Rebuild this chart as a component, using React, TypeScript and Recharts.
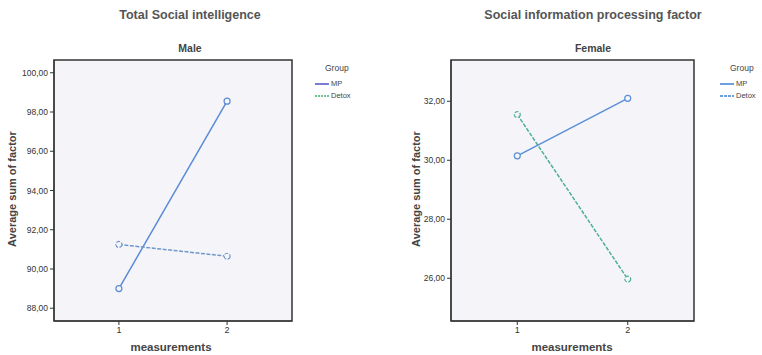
import { LineChart, Line, XAxis, YAxis, ReferenceArea } from 'recharts';

const measurements = [1, 2];
const groups = ['MP', 'Detox'];

// Total Social intelligence, Male
const maleMP = [89.0, 98.55];
const maleDetox = [91.25, 90.65];
const maleTicks = [88, 90, 92, 94, 96, 98, 100];

// Social information processing factor, Female
const femaleMP = [30.15, 32.1];
const femaleDetox = [31.55, 25.97];
const femaleTicks = [26, 28, 30, 32];

const FONT = '"Liberation Sans", Arial, sans-serif';
const PLOT_BG = '#f5f5f9';
const INK = '#333';

const fmt = (v: number) => v.toFixed(2).replace('.', ',');

interface PanelProps {
  left: number;
  title: string;
  subtitle: string;
  mp: number[];
  detox: number[];
  ticks: number[];
  domain: [number, number];
  marginLeft: number;
  marginRight: number;
  lineColors: string[];
  legendColors: string[];
  legendDash: string[];
  titleX: number;
  subX: number;
  yLabelX: number;
  xLabelX: number;
  legendX: number;
}

function GroupLegend({ x, colors, dashes }: { x: number; colors: string[]; dashes: string[] }) {
  return (
    <div style={{ position: 'absolute', left: x, top: 64, fontFamily: FONT, color: '#444', lineHeight: 1 }}>
      <div style={{ fontSize: 8.5, marginLeft: 10, marginBottom: 5 }}>Group</div>
      {groups.map((g, i) => (
        <div key={g} style={{ display: 'flex', alignItems: 'center', fontSize: 7.5, height: 12 }}>
          <svg width={14} height={4} style={{ marginRight: 2 }}>
            <line x1={0} y1={2} x2={14} y2={2} stroke={colors[i]} strokeWidth={1.5} strokeDasharray={dashes[i]} />
          </svg>
          <span>{g}</span>
        </div>
      ))}
    </div>
  );
}

function Panel(p: PanelProps) {
  const data = measurements.map((m, i) => ({ m, mp: p.mp[i], detox: p.detox[i] }));
  return (
    <div style={{ position: 'absolute', left: p.left, top: 0, width: 381, height: 355 }}>
      <div style={{ position: 'absolute', left: p.titleX - 150, width: 300, top: 8, textAlign: 'center', fontWeight: 'bold', fontSize: 12.5, color: '#555' }}>
        {p.title}
      </div>
      <div style={{ position: 'absolute', left: p.subX - 50, width: 100, top: 42, textAlign: 'center', fontWeight: 'bold', fontSize: 10.5, color: '#444' }}>
        {p.subtitle}
      </div>
      <div
        style={{
          position: 'absolute',
          left: p.yLabelX - 80,
          width: 160,
          top: 183,
          textAlign: 'center',
          fontWeight: 'bold',
          fontSize: 11,
          color: '#444',
          transform: 'rotate(-90deg)',
        }}
      >
        Average sum of factor
      </div>
      <div style={{ position: 'absolute', left: p.xLabelX - 60, width: 120, top: 342, lineHeight: 1, textAlign: 'center', fontWeight: 'bold', fontSize: 11.5, color: '#444' }}>
        measurements
      </div>
      <GroupLegend x={p.legendX} colors={p.legendColors} dashes={p.legendDash} />
      <div style={{ position: 'absolute', left: 0, top: 0 }}>
        <LineChart
          width={381}
          height={355}
          data={data}
          margin={{ top: 60, right: p.marginRight, left: p.marginLeft, bottom: 14 }}
        >
          <ReferenceArea
            x1={0.4}
            x2={2.6}
            y1={p.domain[0]}
            y2={p.domain[1]}
            fill={PLOT_BG}
            fillOpacity={1}
            stroke={INK}
            strokeWidth={1.5}
            ifOverflow="visible"
          />
          <XAxis
            type="number"
            dataKey="m"
            domain={[0.4, 2.6]}
            ticks={measurements}
            allowDataOverflow
            height={20}
            tickSize={4}
            stroke={INK}
            tick={{ fontSize: 9, fill: '#333', fontFamily: FONT }}
          />
          <YAxis
            domain={p.domain}
            ticks={p.ticks}
            allowDataOverflow
            width={40}
            tickSize={4}
            stroke={INK}
            tickFormatter={fmt}
            tick={{ fontSize: 8.5, fill: '#333', fontFamily: FONT }}
          />
          <Line
            dataKey="mp"
            name={groups[0]}
            stroke={p.lineColors[0]}
            strokeWidth={1.5}
            dot={{ r: 3, fill: PLOT_BG, stroke: p.lineColors[0], strokeWidth: 1.2 }}
            isAnimationActive={false}
          />
          <Line
            dataKey="detox"
            name={groups[1]}
            stroke={p.lineColors[1]}
            strokeWidth={1.5}
            strokeDasharray="4 1.5"
            dot={{ r: 3, fill: PLOT_BG, stroke: p.lineColors[1], strokeWidth: 1.2 }}
            isAnimationActive={false}
          />
        </LineChart>
      </div>
    </div>
  );
}

export default function App() {
  return (
    <div style={{ position: 'absolute', left: 0, top: 0, width: 762, height: 355, background: '#fff', fontFamily: FONT, overflow: 'hidden' }}>
      <Panel
        left={0}
        title="Total Social intelligence"
        subtitle="Male"
        mp={maleMP}
        detox={maleDetox}
        ticks={maleTicks}
        domain={[87.35, 100.65]}
        marginLeft={14}
        marginRight={89}
        lineColors={['#5b8bd6', '#7098cc']}
        legendColors={['#5050c0', '#3fb06a']}
        legendDash={['', '2 1']}
        titleX={190}
        subX={190}
        yLabelX={12}
        xLabelX={171}
        legendX={315}
      />
      <Panel
        left={381}
        title="Social information processing factor"
        subtitle="Female"
        mp={femaleMP}
        detox={femaleDetox}
        ticks={femaleTicks}
        domain={[24.55, 33.4]}
        marginLeft={30}
        marginRight={68}
        lineColors={['#5a8fd8', '#4fae98']}
        legendColors={['#3d7fd0', '#3d7fd0']}
        legendDash={['', '3 1']}
        titleX={212}
        subX={212}
        yLabelX={35}
        xLabelX={191}
        legendX={339}
      />
    </div>
  );
}
